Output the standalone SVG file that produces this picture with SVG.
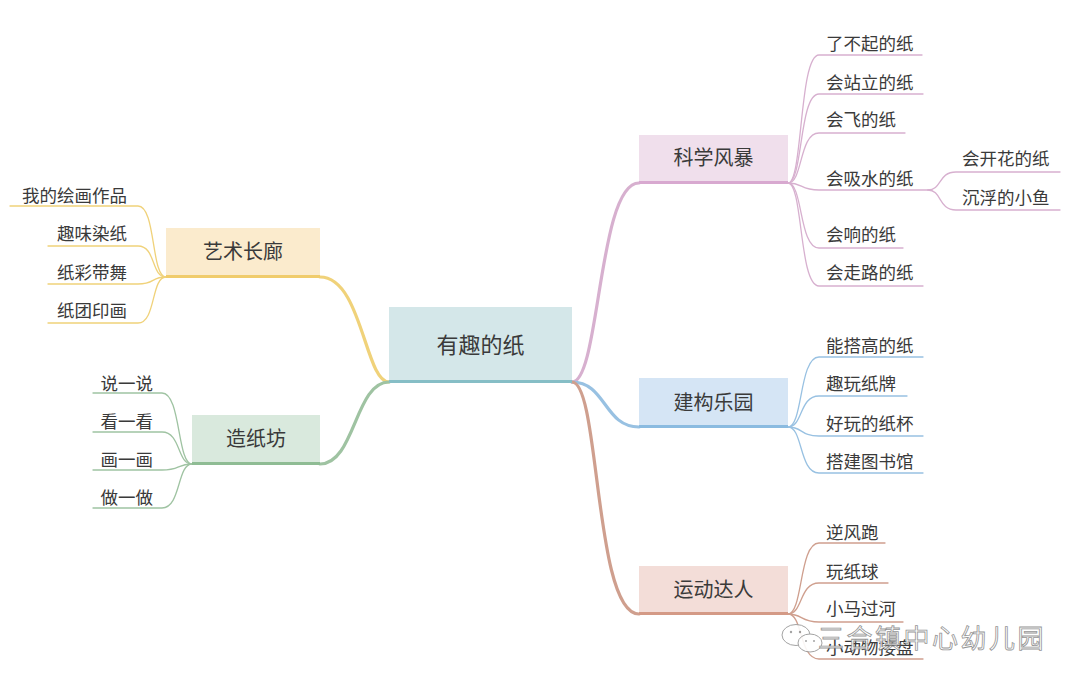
<svg xmlns="http://www.w3.org/2000/svg" width="1080" height="688" viewBox="0 0 1080 688">
<style>
text{font-family:"Noto Sans CJK SC","Noto Sans",sans-serif;fill:#3a3a3a}
.leaf{font-size:17.5px}
.br{font-size:20px}
.ctr{font-size:22px}
.c{fill:none;stroke-linecap:round}
.main{stroke-width:3.2}
.thin{stroke-width:1.3}
.sci{stroke:#d7b0cf}
.bld{stroke:#98c1e2}
.spt{stroke:#cf9f8e}
.art{stroke:#f0d27a}
.pap{stroke:#9fc3a2}
</style>
<rect width="1080" height="688" fill="#ffffff"/>
<g id="connectors">
  <path class="c main sci" d="M572,382 C600,382 598,183 639,183"/>
  <path class="c main bld" d="M572,382 C606,382 604,427 639,427"/>
  <path class="c main spt" d="M572,382 C600,382 594,614 639,614"/>
  <path class="c main art" d="M389,382 C365,382 362,277 320,277"/>
  <path class="c main pap" d="M389,382 C355,382 355,464 320,464"/>
  <path class="c thin sci" d="M788,183 C803,183 799,55 819,55 H922"/>
  <path class="c thin sci" d="M788,183 C803,183 799,94 819,94 H923"/>
  <path class="c thin sci" d="M788,183 C803,183 799,133 819,133 H905"/>
  <path class="c thin sci" d="M788,183 C803,183 800,190 819,190 H928"/>
  <path class="c thin sci" d="M788,183 C803,183 799,248 819,248 H903"/>
  <path class="c thin sci" d="M788,183 C803,183 799,286 819,286 H923"/>
  <path class="c thin sci" d="M928,190 C942,190 938,172 956,172 H1060"/>
  <path class="c thin sci" d="M928,190 C942,190 938,210 956,210 H1060"/>
  <path class="c thin bld" d="M788,427 C803,427 799,357 819,357 H923"/>
  <path class="c thin bld" d="M788,427 C803,427 799,396 819,396 H907"/>
  <path class="c thin bld" d="M788,427 C803,427 800,436 819,436 H923"/>
  <path class="c thin bld" d="M788,427 C803,427 799,473 819,473 H923"/>
  <path class="c thin spt" d="M788,614 C803,614 799,543 819,543 H885"/>
  <path class="c thin spt" d="M788,614 C803,614 799,583 819,583 H888"/>
  <path class="c thin spt" d="M788,614 C803,614 800,622 819,622 H903"/>
  <path class="c thin spt" d="M788,614 C803,614 799,659 819,659 H923"/>
  <path class="c thin art" d="M166,277 C151,277 156,206 138,206 H10"/>
  <path class="c thin art" d="M166,277 C151,277 156,246 138,246 H48"/>
  <path class="c thin art" d="M166,277 C151,277 155,284 138,284 H48"/>
  <path class="c thin art" d="M166,277 C151,277 156,323 138,323 H48"/>
  <path class="c thin pap" d="M192,464 C177,464 181,393 162,393 H93"/>
  <path class="c thin pap" d="M192,464 C177,464 181,432 162,432 H93"/>
  <path class="c thin pap" d="M192,464 C177,464 180,470 162,470 H93"/>
  <path class="c thin pap" d="M192,464 C177,464 181,508 162,508 H93"/>
</g>
<g id="center">
  <rect x="389" y="307" width="183" height="76" fill="#d4e7e9"/>
  <rect x="389" y="380" width="183" height="3" fill="#86bec6"/>
  <text class="ctr" x="480.5" y="353" text-anchor="middle">有趣的纸</text>
</g>
<g id="science">
  <rect x="639" y="135" width="149" height="48" fill="#f0dfec"/>
  <rect x="639" y="181" width="149" height="3" fill="#d8a9d0"/>
  <text class="br" x="713.5" y="165" text-anchor="middle">科学风暴</text>
</g>
<g id="build">
  <rect x="639" y="378" width="149" height="49" fill="#d5e5f5"/>
  <rect x="639" y="425" width="149" height="3" fill="#8bbbe0"/>
  <text class="br" x="713.5" y="410" text-anchor="middle">建构乐园</text>
</g>
<g id="sport">
  <rect x="639" y="566" width="149" height="48" fill="#f3ddd8"/>
  <rect x="639" y="612" width="149" height="3" fill="#d49a86"/>
  <text class="br" x="713.5" y="597" text-anchor="middle">运动达人</text>
</g>
<g id="art">
  <rect x="166" y="228" width="154" height="49" fill="#fbebcd"/>
  <rect x="166" y="275" width="154" height="3" fill="#f0cc6c"/>
  <text class="br" x="243" y="259" text-anchor="middle">艺术长廊</text>
</g>
<g id="paper">
  <rect x="192" y="415" width="128" height="49" fill="#d9e9dd"/>
  <rect x="192" y="462" width="128" height="3" fill="#8fbc94"/>
  <text class="br" x="256" y="446" text-anchor="middle">造纸坊</text>
</g>
<g id="science-leaves">
  <text class="leaf" x="826" y="49.5">了不起的纸</text>
  <text class="leaf" x="826" y="88.5">会站立的纸</text>
  <text class="leaf" x="826" y="125.5">会飞的纸</text>
  <text class="leaf" x="826" y="184.5">会吸水的纸</text>
  <text class="leaf" x="962" y="164.5">会开花的纸</text>
  <text class="leaf" x="962" y="203.5">沉浮的小鱼</text>
  <text class="leaf" x="826" y="240.5">会响的纸</text>
  <text class="leaf" x="826" y="278.5">会走路的纸</text>
</g>
<g id="build-leaves">
  <text class="leaf" x="826" y="351.5">能搭高的纸</text>
  <text class="leaf" x="826" y="389.5">趣玩纸牌</text>
  <text class="leaf" x="826" y="429.5">好玩的纸杯</text>
  <text class="leaf" x="826" y="467.5">搭建图书馆</text>
</g>
<g id="sport-leaves">
  <text class="leaf" x="826" y="538.5">逆风跑</text>
  <text class="leaf" x="826" y="577.5">玩纸球</text>
  <text class="leaf" x="826" y="614.5">小马过河</text>
  <text class="leaf" x="826" y="653.5">小动物接盘</text>
</g>
<g id="art-leaves">
  <text class="leaf" x="127" y="201.5" text-anchor="end">我的绘画作品</text>
  <text class="leaf" x="127" y="239.5" text-anchor="end">趣味染纸</text>
  <text class="leaf" x="127" y="278.5" text-anchor="end">纸彩带舞</text>
  <text class="leaf" x="127" y="316.5" text-anchor="end">纸团印画</text>
</g>
<g id="paper-leaves">
  <text class="leaf" x="153" y="389.5" text-anchor="end">说一说</text>
  <text class="leaf" x="153" y="427.5" text-anchor="end">看一看</text>
  <text class="leaf" x="153" y="465.5" text-anchor="end">画一画</text>
  <text class="leaf" x="153" y="503.5" text-anchor="end">做一做</text>
</g>
<g id="watermark" opacity="0.9">
  <ellipse cx="796" cy="635" rx="14" ry="10.5" fill="#ffffff" stroke="#9a9a9a" stroke-width="1"/>
  <ellipse cx="810" cy="643" rx="12" ry="9" fill="#ffffff" stroke="#9a9a9a" stroke-width="1"/>
  <circle cx="791" cy="632" r="1.2" fill="#9a9a9a"/>
  <circle cx="800" cy="632" r="1.2" fill="#9a9a9a"/>
  <circle cx="806" cy="641" r="1" fill="#9a9a9a"/>
  <circle cx="814" cy="641" r="1" fill="#9a9a9a"/>
  <text x="818" y="648" style="font-size:26px;fill:#ffffff;stroke:#8a8a8a;stroke-width:0.8;letter-spacing:2.5px">三合镇中心幼儿园</text>
</g>
</svg>
